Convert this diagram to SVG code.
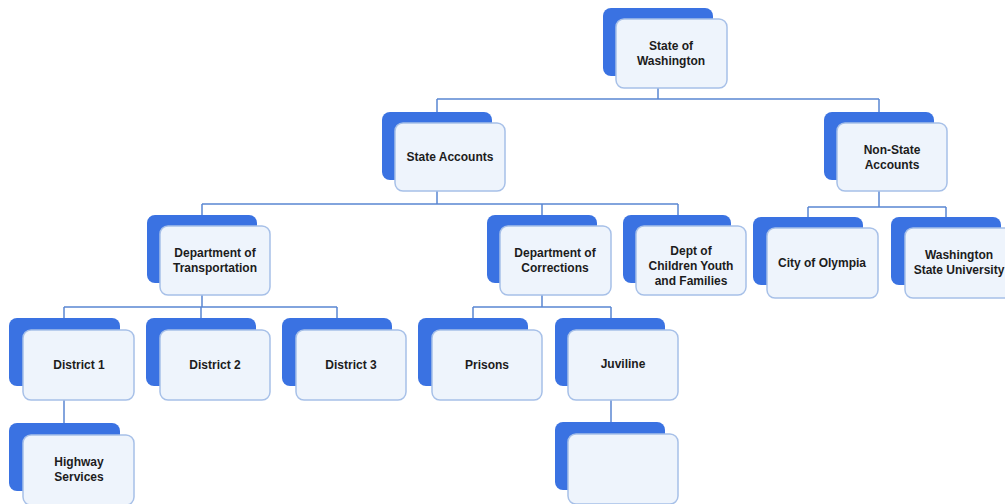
<svg xmlns="http://www.w3.org/2000/svg" width="1005" height="504" viewBox="0 0 1005 504">
<defs>
<style>
.back{fill:#3a72e2;}
.front{fill:#eef4fc;stroke:#a7c0e8;stroke-width:1.5;}
.lbl{font-family:"Liberation Sans",Arial,sans-serif;font-weight:bold;font-size:12px;fill:#1c1c1c;text-anchor:middle;}
.conn{fill:none;stroke:#5a86d2;stroke-width:1.5;}
</style>
<linearGradient id="fg" x1="0" y1="0" x2="0" y2="1">
<stop offset="0" stop-color="#e8f0fb"/>
<stop offset="1" stop-color="#f6f9fe"/>
</linearGradient>
</defs>
<rect width="1005" height="504" fill="#ffffff"/>
<g id="connectors">
<path class="conn" d="M658,87V99M437,99H879M437,99V112M879,99V112"/>
<path class="conn" d="M437,191V204M202,204H678M202,204V215M542,204V215M678,204V215"/>
<path class="conn" d="M879,191V207M808,207H946M808,207V217M946,207V217"/>
<path class="conn" d="M202,295V307M64,307H337M64,307V318M201,307V318M337,307V318"/>
<path class="conn" d="M542,295V307M473,307H611M473,307V318M611,307V318"/>
<path class="conn" d="M64,400V423"/>
<path class="conn" d="M611,400V422"/>
</g>
<g id="n-washington">
<rect class="back" x="603" y="8" width="110" height="68" rx="8"/>
<rect class="front" x="616" y="19" width="111" height="69" rx="8" fill="url(#fg)"/>
<text class="lbl" x="671" y="50">State of</text>
<text class="lbl" x="671" y="65">Washington</text>
</g>
<g id="n-state-accounts">
<rect class="back" x="382" y="112" width="110" height="68" rx="8"/>
<rect class="front" x="395" y="123" width="110" height="68" rx="8"/>
<text class="lbl" x="450" y="161">State Accounts</text>
</g>
<g id="n-non-state">
<rect class="back" x="824" y="112" width="110" height="68" rx="8"/>
<rect class="front" x="837" y="123" width="110" height="68" rx="8"/>
<text class="lbl" x="892" y="154">Non-State</text>
<text class="lbl" x="892" y="169">Accounts</text>
</g>
<g id="n-dot">
<rect class="back" x="147" y="215" width="110" height="68" rx="8"/>
<rect class="front" x="160" y="226" width="110" height="69" rx="8"/>
<text class="lbl" x="215" y="257">Department of</text>
<text class="lbl" x="215" y="272">Transportation</text>
</g>
<g id="n-corrections">
<rect class="back" x="487" y="215" width="110" height="68" rx="8"/>
<rect class="front" x="500" y="226" width="111" height="69" rx="8"/>
<text class="lbl" x="555" y="257">Department of</text>
<text class="lbl" x="555" y="272">Corrections</text>
</g>
<g id="n-dcyf">
<rect class="back" x="623" y="215" width="108" height="68" rx="8"/>
<rect class="front" x="636" y="226" width="110" height="69" rx="8"/>
<text class="lbl" x="691" y="255">Dept of</text>
<text class="lbl" x="691" y="270">Children Youth</text>
<text class="lbl" x="691" y="285">and Families</text>
</g>
<g id="n-olympia">
<rect class="back" x="753" y="217" width="110" height="68" rx="8"/>
<rect class="front" x="767" y="228" width="111" height="70" rx="8"/>
<text class="lbl" x="822" y="267">City of Olympia</text>
</g>
<g id="n-wsu">
<rect class="back" x="891" y="217" width="110" height="68" rx="8"/>
<rect class="front" x="905" y="228" width="111" height="70" rx="8"/>
<text class="lbl" x="959" y="259">Washington</text>
<text class="lbl" x="959" y="274">State University</text>
</g>
<g id="n-district1">
<rect class="back" x="9" y="318" width="111" height="68" rx="8"/>
<rect class="front" x="23" y="330" width="111" height="70" rx="8"/>
<text class="lbl" x="79" y="369">District 1</text>
</g>
<g id="n-district2">
<rect class="back" x="146" y="318" width="110" height="68" rx="8"/>
<rect class="front" x="160" y="330" width="110" height="70" rx="8"/>
<text class="lbl" x="215" y="369">District 2</text>
</g>
<g id="n-district3">
<rect class="back" x="282" y="318" width="110" height="68" rx="8"/>
<rect class="front" x="296" y="330" width="110" height="70" rx="8"/>
<text class="lbl" x="351" y="369">District 3</text>
</g>
<g id="n-prisons">
<rect class="back" x="418" y="318" width="110" height="68" rx="8"/>
<rect class="front" x="432" y="330" width="110" height="70" rx="8"/>
<text class="lbl" x="487" y="369">Prisons</text>
</g>
<g id="n-juviline">
<rect class="back" x="555" y="318" width="110" height="68" rx="8"/>
<rect class="front" x="568" y="330" width="110" height="70" rx="8"/>
<text class="lbl" x="623" y="368">Juviline</text>
</g>
<g id="n-highway">
<rect class="back" x="9" y="423" width="111" height="68" rx="8"/>
<rect class="front" x="23" y="435" width="111" height="70" rx="8"/>
<text class="lbl" x="79" y="466">Highway</text>
<text class="lbl" x="79" y="481">Services</text>
</g>
<g id="n-empty">
<rect class="back" x="555" y="422" width="110" height="68" rx="8"/>
<rect class="front" x="568" y="434" width="110" height="70" rx="8"/>
</g>
</svg>
